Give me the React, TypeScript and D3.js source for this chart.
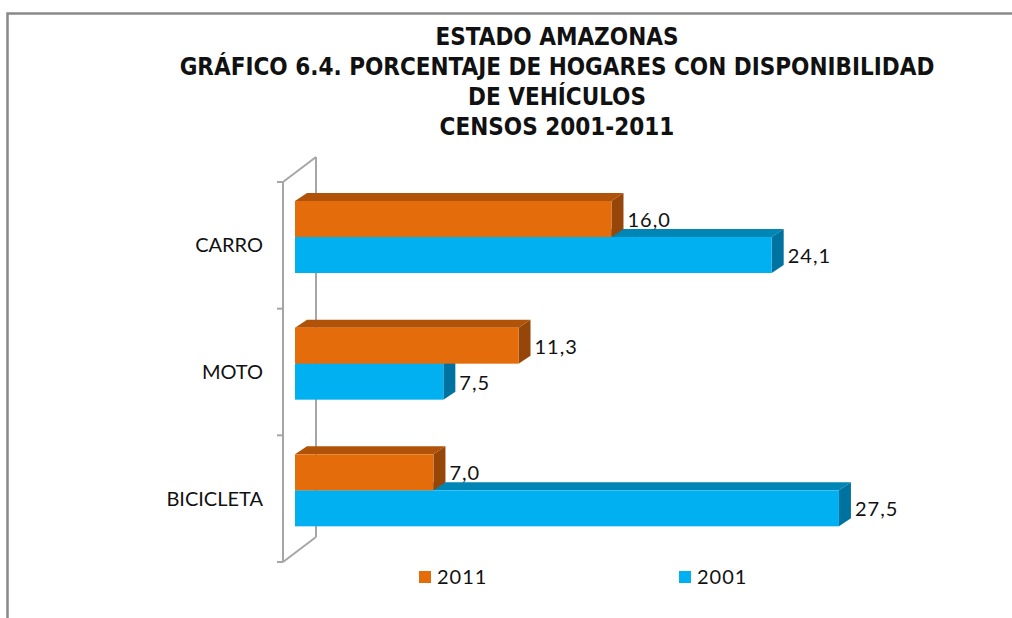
import React from "react";
import * as d3 from "d3";

const categories = ["CARRO", "MOTO", "BICICLETA"];
const values2011 = [16.0, 11.3, 7.0];
const values2001 = [24.1, 7.5, 27.5];
const seriesNames = ["2011", "2001"];
const titleLines = [
  "ESTADO AMAZONAS",
  "GRÁFICO 6.4. PORCENTAJE DE HOGARES CON DISPONIBILIDAD",
  "DE VEHÍCULOS",
  "CENSOS 2001-2011",
];

const width = 1012,
  height = 618;

// colores: frente, tapa, lado
const orange = { front: "#E46C0A", top: "#B05309", side: "#97460A" };
const blue = { front: "#00B0F0", top: "#0085B4", side: "#0072A0" };

const fmt = (v: number) => v.toFixed(1).replace(".", ",");

export default function App() {
  const x0 = 295;
  const xScale = d3.scaleLinear().domain([0, 30]).range([x0, x0 + 30 * 19.78]);
  const yScale = d3.scaleBand().domain(categories).range([182, 562]);

  const dx = 12,
    dy = -8; // profundidad de barras
  const wx = 33,
    wy = -25; // profundidad de la pared
  const barH = 36;
  const pad = 19;

  const bar = (v: number, yTop: number, c: typeof orange, key: string) => {
    const x1 = xScale(v);
    const y1 = yTop,
      y2 = yTop + barH;
    return (
      <g key={key}>
        <polygon
          points={`${x0},${y1} ${x0 + dx},${y1 + dy} ${x1 + dx},${y1 + dy} ${x1},${y1}`}
          fill={c.top}
        />
        <polygon
          points={`${x1},${y1} ${x1 + dx},${y1 + dy} ${x1 + dx},${y2 + dy} ${x1},${y2}`}
          fill={c.side}
        />
        <rect x={x0} y={y1} width={x1 - x0} height={barH} fill={c.front} />
      </g>
    );
  };

  const [r0, r1] = yScale.range();
  const wallX = 283;
  const ticks = [...categories.map((c) => yScale(c) as number), r1];

  return (
    <div style={{ position: "absolute", left: 0, top: 0 }}>
      <svg width={width} height={height} style={{ display: "block" }}>
        <rect x={0} y={0} width={width} height={height} fill="#fff" />
        {/* marco */}
        <path d={`M${width},13.5 H7.5 V${height}`} fill="none" stroke="#898989" strokeWidth={2.5} />

        {/* titulo */}
        <g fontFamily="'DejaVu Sans Condensed', sans-serif" fontWeight="bold" fontSize={24} textAnchor="middle" fill="#111">
          {titleLines.map((t, i) => (
            <text key={i} x={557} y={45 + i * 30}>
              {t}
            </text>
          ))}
        </g>

        {/* pared del eje */}
        <g stroke="#A6A6A6" strokeWidth={2} fill="none">
          <line x1={wallX} x2={wallX} y1={r0} y2={r1} />
          <line x1={wallX + wx} x2={wallX + wx} y1={r0 + wy} y2={r1 + wy} />
          <line x1={wallX} x2={wallX + wx} y1={r0} y2={r0 + wy} />
          <line x1={wallX} x2={wallX + wx} y1={r1} y2={r1 + wy} />
          {ticks.map((t, i) => (
            <line key={i} x1={wallX - 6} x2={wallX} y1={t} y2={t} />
          ))}
        </g>

        {/* categorias */}
        <g fontFamily="Lato, sans-serif" fontSize={20} textAnchor="end" fill="#111">
          {categories.map((c) => (
            <text key={c} x={263} y={(yScale(c) as number) + yScale.bandwidth() / 2 + 7}>
              {c}
            </text>
          ))}
        </g>

        {/* barras */}
        {categories.map((c, i) => {
          const top = (yScale(c) as number) + pad;
          return (
            <g key={c}>
              {bar(values2001[i], top + barH, blue, "b")}
              {bar(values2011[i], top, orange, "o")}
            </g>
          );
        })}

        {/* etiquetas */}
        <g fontFamily="Lato, sans-serif" fontSize={20} fill="#111" letterSpacing={1}>
          {categories.map((c, i) => {
            const top = (yScale(c) as number) + pad;
            return (
              <g key={c}>
                <text x={xScale(values2011[i]) + dx + 4} y={top + barH / 2 + 8}>
                  {fmt(values2011[i])}
                </text>
                <text x={xScale(values2001[i]) + dx + 4} y={top + barH * 1.5 + 8}>
                  {fmt(values2001[i])}
                </text>
              </g>
            );
          })}
        </g>

        {/* leyenda */}
        <g fontFamily="Lato, sans-serif" fontSize={20} fill="#111" letterSpacing={1}>
          {seriesNames.map((s, i) => {
            const lx = i === 0 ? 419 : 679;
            return (
              <g key={s}>
                <rect x={lx} y={571} width={12} height={12} fill={i === 0 ? orange.front : blue.front} />
                <text x={lx + 18} y={584}>
                  {s}
                </text>
              </g>
            );
          })}
        </g>
      </svg>
    </div>
  );
}
